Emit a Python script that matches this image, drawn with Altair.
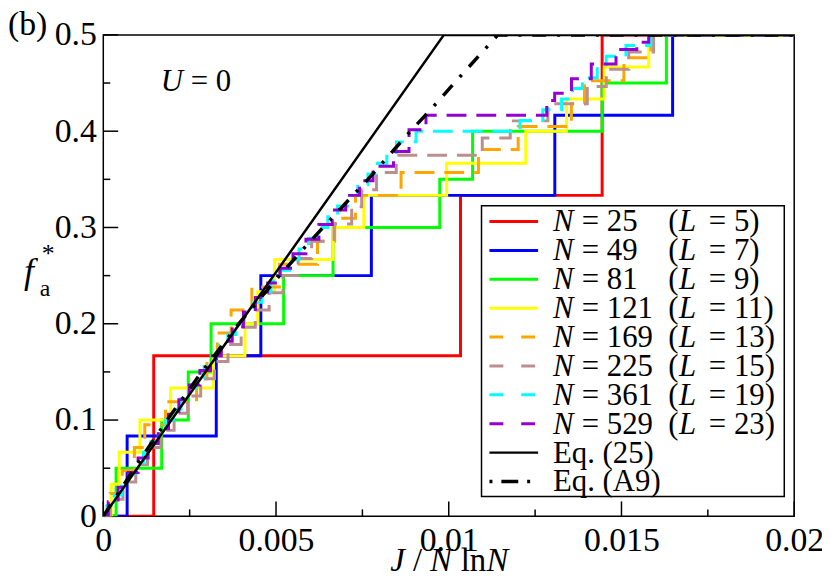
import altair as alt
import pandas as pd

FONT = "Liberation Serif, Times New Roman, serif"
W, H = 696, 485

# ---------------- data ----------------
# staircases: x where a level starts, level numerator k, level = k/den
red_x = [0, 0.00146, 0.01034, 0.01444, 0.02]
red_k = [0, 1, 2, 3, 3]

blue_x = [0, 0.00069, 0.00327, 0.00456, 0.00776, 0.01307, 0.01648, 0.02]
blue_k = [0, 1, 2, 3, 4, 5, 6, 6]

green_x = [0, 0.00037, 0.00169, 0.00246, 0.00312, 0.00522, 0.00665, 0.00974,
           0.01069, 0.01444, 0.0163, 0.02]
green_k = [0, 1, 2, 3, 4, 5, 6, 7, 8, 9, 10, 10]

yellow_x = [0, 0.00023, 0.00046, 0.00106, 0.00195, 0.00318, 0.0041, 0.00447,
            0.00496, 0.00665, 0.00754, 0.00994, 0.01223, 0.01341, 0.0145,
            0.01579, 0.02]
yellow_k = [0, 1, 2, 3, 4, 5, 6, 7, 8, 9, 10, 11, 12, 13, 14, 15, 15]

orange_x = [0, 0.0002, 0.00055, 0.0009, 0.0012, 0.0018, 0.0027, 0.003, 0.0033,
            0.0037, 0.0043, 0.0051, 0.0062, 0.0067, 0.0073, 0.00862, 0.01086,
            0.01201, 0.01355, 0.01393, 0.01507, 0.01585, 0.02]
orange_k = [0, 1, 2, 3, 4, 5, 6, 7, 8, 9, 10, 11, 12, 13, 14, 15, 16, 17, 18,
            19, 20, 21, 21]

brown_x = [0, 0.0002, 0.00057, 0.00094, 0.00128, 0.00167, 0.00205, 0.00244,
           0.00282, 0.00322, 0.00361, 0.00399, 0.0044, 0.0048, 0.0052, 0.00564,
           0.00603, 0.00668, 0.00719, 0.00748, 0.00791, 0.00848, 0.01097,
           0.01178, 0.01287, 0.01401, 0.01456, 0.01521, 0.01593, 0.02]
brown_k = [0, 1, 2, 3, 4, 5, 6, 7, 8, 9, 10, 11, 12, 13, 14, 15, 16, 17, 18,
           19, 20, 21, 22, 23, 24, 25, 26, 27, 28, 28]

cyan_x = [0, 0.000105, 0.000314, 0.000525, 0.000736, 0.000949, 0.001162,
          0.001376, 0.001592, 0.001808, 0.002027, 0.002248, 0.00247, 0.002694,
          0.00292, 0.003147, 0.003375, 0.003605, 0.003837, 0.004079, 0.004333,
          0.004591, 0.004853, 0.005119, 0.00539, 0.005665, 0.005941, 0.006217,
          0.006498, 0.006782, 0.007071, 0.007363, 0.00766, 0.007933, 0.008208,
          0.008485, 0.009054, 0.012063, 0.012722, 0.013266, 0.013582,
          0.013868, 0.014298, 0.014556, 0.015129, 0.015845, 0.02]
cyan_k = list(range(0, 46)) + [45]

violet_x = [0, 0.000143, 0.000429, 0.000717, 0.001007, 0.001298, 0.001592,
            0.001887, 0.002187, 0.00249, 0.002796, 0.003105, 0.003417,
            0.003732, 0.004056, 0.004403, 0.004757, 0.005119, 0.005491,
            0.005866, 0.006242, 0.006627, 0.007018, 0.007416, 0.007808, 0.0084,
            0.00885, 0.009341, 0.012837, 0.013066, 0.013553, 0.014126,
            0.014842, 0.015444, 0.015788, 0.02]
violet_k = [0, 2, 4, 6, 8, 10, 12, 14, 16, 18, 20, 22, 24, 26, 28, 30, 32, 34,
            36, 38, 40, 42, 44, 46, 48, 50, 53, 55, 57, 58, 60, 62, 64, 65, 66,
            66]

eq25_x = [0, 0.00986, 0.02]
eq25_f = [0, 0.5, 0.5]

eqA9_x = [0, 0.0009, 0.00185, 0.00285, 0.00392, 0.0051, 0.0058, 0.00636,
          0.00766, 0.00889, 0.00942, 0.01016, 0.01142, 0.02]
eqA9_f = [0, 0.05, 0.1, 0.15, 0.2, 0.25, 0.278, 0.3, 0.35, 0.4, 0.42, 0.45,
          0.5, 0.5]

N_vals = [25, 49, 81, 121, 169, 225, 361, 529]
L_vals = [5, 7, 9, 11, 13, 15, 19, 23]

x_major = [0, 0.005, 0.01, 0.015, 0.02]
x_minor = [0.0025, 0.0075, 0.0125, 0.0175]
y_major = [0, 0.1, 0.2, 0.3, 0.4, 0.5]
y_minor = [0.05, 0.15, 0.25, 0.35, 0.45]

# ---------------- chart ----------------
xs = alt.Scale(domain=[0, 0.02], nice=False, zero=False)
ys = alt.Scale(domain=[0, 0.5], nice=False, zero=False)
x_axis = alt.Axis(values=x_major, format="~g", title=None, ticks=False,
                  domain=False, grid=False, labelFont=FONT, labelFontSize=34,
                  labelColor="black", labelFlush=False, labelOverlap=False,
                  labelPadding=7)
y_axis = alt.Axis(values=y_major, format="~g", title=None, ticks=False,
                  domain=False, grid=False, labelFont=FONT, labelFontSize=34,
                  labelColor="black", labelFlush=False, labelOverlap=False,
                  labelPadding=7)


def X():
    return alt.X("x:Q", scale=xs, axis=x_axis)


def Y():
    return alt.Y("f:Q", scale=ys, axis=y_axis)


one = pd.DataFrame({"a": [0]})
layers = []

# ticks (inward)
for vals, ln in [(x_major, 15), (x_minor, 7)]:
    layers.append(alt.Chart(pd.DataFrame({"x": vals})).mark_rule(
        color="black", strokeWidth=1.5).encode(
        x=X(), y=alt.value(H), y2=alt.value(H - ln)))
for vals, ln in [(y_major, 15), (y_minor, 7)]:
    layers.append(alt.Chart(pd.DataFrame({"f": vals})).mark_rule(
        color="black", strokeWidth=1.5).encode(
        y=Y(), x=alt.value(0), x2=alt.value(ln)))

DASH = [20, 10]
series = [
    (red_x, red_k, 6, "#ff0000", None),
    (blue_x, blue_k, 12, "#0000ff", None),
    (green_x, green_k, 20, "#00ff00", None),
    (yellow_x, yellow_k, 30, "#ffff00", None),
    (orange_x, orange_k, 42, "#ffa500", DASH),
    (brown_x, brown_k, 56, "#bc8f8f", DASH),
    (cyan_x, cyan_k, 90, "#00ffff", DASH),
    (violet_x, violet_k, 132, "#9400d3", DASH),
]
for sx, sk, den, col, dash in series:
    df = pd.DataFrame({"x": sx, "f": [k / den for k in sk]})
    kw = dict(interpolate="step-after", color=col, strokeWidth=3, clip=True)
    if dash:
        kw["strokeDash"] = dash
    layers.append(alt.Chart(df).mark_line(**kw).encode(x=X(), y=Y()))

layers.append(alt.Chart(pd.DataFrame({"x": eq25_x, "f": eq25_f})).mark_line(
    color="black", strokeWidth=2.5, clip=True).encode(x=X(), y=Y()))
layers.append(alt.Chart(pd.DataFrame({"x": eqA9_x, "f": eqA9_f})).mark_line(
    color="black", strokeWidth=3.5, strokeDash=[14, 11, 3, 11],
    clip=True).encode(x=X(), y=Y()))

# legend box
layers.append(alt.Chart(one).mark_rect(
    fill="white", stroke="black", strokeWidth=1.5).encode(
    x=alt.value(381), x2=alt.value(686), y=alt.value(172), y2=alt.value(465)))

row0, dy = 188, 29.1
leg_styles = [(c, 3, [14, 18] if d else None) for _, _, _, c, d in series]
leg_styles += [("black", 2.5, None), ("black", 3.5, [3, 9, 17, 9])]
for i, (col, sw, dash) in enumerate(leg_styles):
    kw = dict(color=col, strokeWidth=sw)
    if dash:
        kw["strokeDash"] = dash
    layers.append(alt.Chart(one).mark_rule(**kw).encode(
        x=alt.value(389), x2=alt.value(438 if i != 9 else 432),
        y=alt.value(row0 + i * dy)))

leg = pd.DataFrame({
    "i": list(range(8)),
    "nl": [f"= {n}" for n in N_vals],
    "ll": [f"= {l})" for l in L_vals],
})
ycalc = f"0.5 - ({row0 + 10} + datum.i*{dy})/970"
txt = dict(font=FONT, fontSize=31, align="left", baseline="alphabetic",
           color="black")
base = alt.Chart(leg).transform_calculate(f=ycalc)
layers.append(base.mark_text(text="N", fontStyle="italic", **txt).encode(
    x=alt.value(453), y=Y()))
layers.append(base.mark_text(**txt).encode(
    x=alt.value(482), y=Y(), text="nl:N"))
layers.append(base.mark_text(text="(", **txt).encode(x=alt.value(569), y=Y()))
layers.append(base.mark_text(text="L", fontStyle="italic", **txt).encode(
    x=alt.value(580), y=Y()))
layers.append(base.mark_text(**txt).encode(
    x=alt.value(610), y=Y(), text="ll:N"))
for i, lab in [(8, "Eq. (25)"), (9, "Eq. (A9)")]:
    layers.append(alt.Chart(one).mark_text(text=lab, **txt).encode(
        x=alt.value(453), y=alt.value(row0 + 10 + i * dy)))


def label(t, x, y, size=34, italic=False):
    kw = dict(font=FONT, fontSize=size, align="left", baseline="alphabetic",
              color="black", text=t)
    if italic:
        kw["fontStyle"] = "italic"
    return alt.Chart(one).mark_text(**kw).encode(x=alt.value(x),
                                                  y=alt.value(y))


# panel tag, U = 0
layers.append(label("(b)", -96, 0, 34))
layers.append(label("U", 58, 57, 31, True))
layers.append(label("= 0", 88, 57, 31))
# x title  J / N lnN
layers.append(label("J", 289, 540, 33, True))
layers.append(label("/", 312, 540, 33))
layers.append(label("N", 329, 540, 33, True))
layers.append(label("ln", 360, 540, 33))
layers.append(label("N", 386, 540, 33, True))
# y title f*_a
layers.append(label("f", -80, 250, 36, True))
layers.append(label("*", -62, 229, 26))
layers.append(label("a", -64, 263, 24))

chart = alt.layer(*layers).properties(
    width=W, height=H,
    padding={"left": 96, "top": 25, "right": 28, "bottom": 58},
    autosize=alt.AutoSizeParams(type="none"),
).configure_view(stroke="black", strokeWidth=1.5)

chart.save("out.html", embed_options={"renderer": "svg", "actions": False})
